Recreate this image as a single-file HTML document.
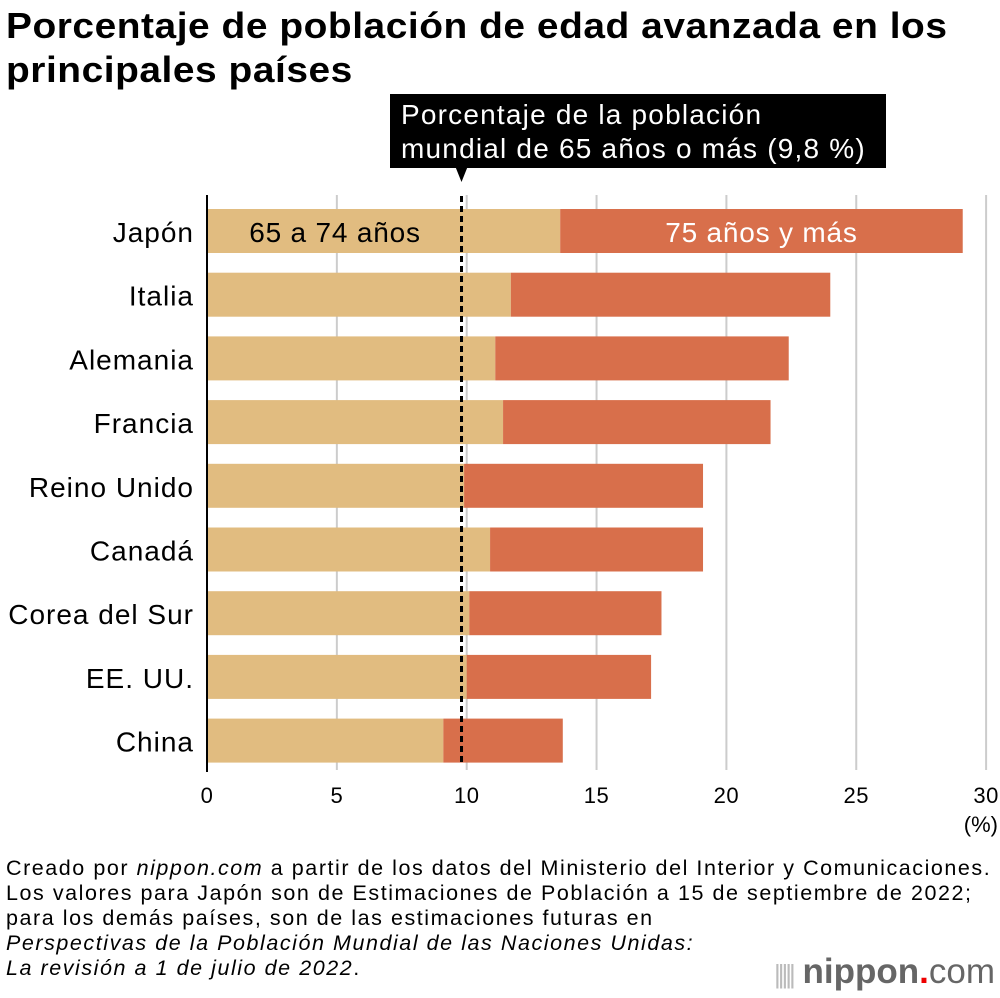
<!DOCTYPE html>
<html><head><meta charset="utf-8"><style>
body{margin:0;width:1000px;height:998px;background:#fff;font-family:"Liberation Sans",sans-serif;position:relative;overflow:hidden}
.t{position:absolute;color:#000}
</style></head><body>
<div class="t" style="left:6px;top:4px;font-size:36px;font-weight:bold;line-height:44px;letter-spacing:0.5px;transform:scaleX(1.08);transform-origin:0 0;white-space:nowrap">Porcentaje de población de edad avanzada en los<br>principales países</div>
<svg id="c" width="1000" height="998" style="position:absolute;left:0;top:0"></svg>
<div class="t" style="left:6px;top:856px;font-size:21.5px;line-height:25px;letter-spacing:1.55px;white-space:nowrap">Creado por <i>nippon.com</i> a partir de los datos del Ministerio del Interior y Comunicaciones.<br>Los valores para Japón son de Estimaciones de Población a 15 de septiembre de 2022;<br>para los demás países, son de las estimaciones futuras en<br><i>Perspectivas de la Población Mundial de las Naciones Unidas:<br>La revisión a 1 de julio de 2022</i>.</div>
<div class="t" style="left:774px;top:954px;font-size:35px;color:#666;font-weight:bold;line-height:36px;white-space:nowrap"><span style="color:#bbb;font-weight:normal;font-size:26px;letter-spacing:-3px">|||||</span> nippon<span style="color:#e00">.</span><span style="font-weight:normal">com</span></div>
<script>
const countries=["Japón","Italia","Alemania","Francia","Reino Unido","Canadá","Corea del Sur","EE. UU.","China"];
const young=[13.6,11.7,11.1,11.4,9.9,10.9,10.1,10.0,9.1];
const total=[29.1,24.0,22.4,21.7,19.1,19.1,17.5,17.1,13.7];
const ticks=[0,5,10,15,20,25,30];
const worldAvg=9.8;
const NS="http://www.w3.org/2000/svg",svg=document.getElementById('c');
const x=v=>207+v*25.97, y=i=>209+i*63.7;
function mk(t,a,txt){const e=document.createElementNS(NS,t);for(const k in a)e.setAttribute(k,a[k]);if(txt!==undefined)e.textContent=txt;svg.appendChild(e);return e;}
ticks.forEach(t=>{if(t>0){const g=mk('line',{x1:x(t),x2:x(t),y1:195,y2:770,stroke:'#ccc','stroke-width':2});

}
const l=mk('text',{x:x(t),y:803,'font-size':22,'text-anchor':'middle','font-family':'Liberation Sans','letter-spacing':0.5},t);

});
countries.forEach((c,i)=>{
const a=mk('rect',{x:x(0),y:y(i),width:x(young[i])-x(0),height:44,fill:'#e1bc80'});


const b=mk('rect',{x:x(young[i]),y:y(i),width:x(total[i])-x(young[i]),height:44,fill:'#d86f4b'});


const l=mk('text',{x:194,y:y(i)+33,'font-size':28,'text-anchor':'end','font-family':'Liberation Sans','letter-spacing':1},c);


});
const ax=mk('line',{x1:x(0),x2:x(0),y1:195,y2:772,stroke:'#000','stroke-width':2});


const l1=mk('text',{x:335,y:y(0)+33,'font-size':28,'text-anchor':'middle','font-family':'Liberation Sans','letter-spacing':0.8},'65 a 74 años');


const l2=mk('text',{x:(x(young[0])+x(total[0]))/2,y:y(0)+33,'font-size':28,'text-anchor':'middle','fill':'#fff','font-family':'Liberation Sans','letter-spacing':0.8},'75 años y más');


const d=mk('line',{x1:x(worldAvg),x2:x(worldAvg),y1:196,y2:766,stroke:'#000','stroke-width':3,'stroke-dasharray':'6,4'});


const bx=mk('rect',{x:390,y:94,width:496,height:74,fill:'#000'});


const tr=mk('polygon',{points:`${x(worldAvg)-6},167 ${x(worldAvg)+6},167 ${x(worldAvg)},182`,fill:'#000'});


[['Porcentaje de la población',124],['mundial de 65 años o más (9,8 %)',158]].forEach(([s,yy])=>{
const t=mk('text',{x:401,y:yy,'font-size':28,fill:'#fff','font-family':'Liberation Sans','letter-spacing':1.2},s);

});
const u=mk('text',{x:998,y:832,'font-size':22,'text-anchor':'end','font-family':'Liberation Sans'},'(%)');


</script>
</body></html>
